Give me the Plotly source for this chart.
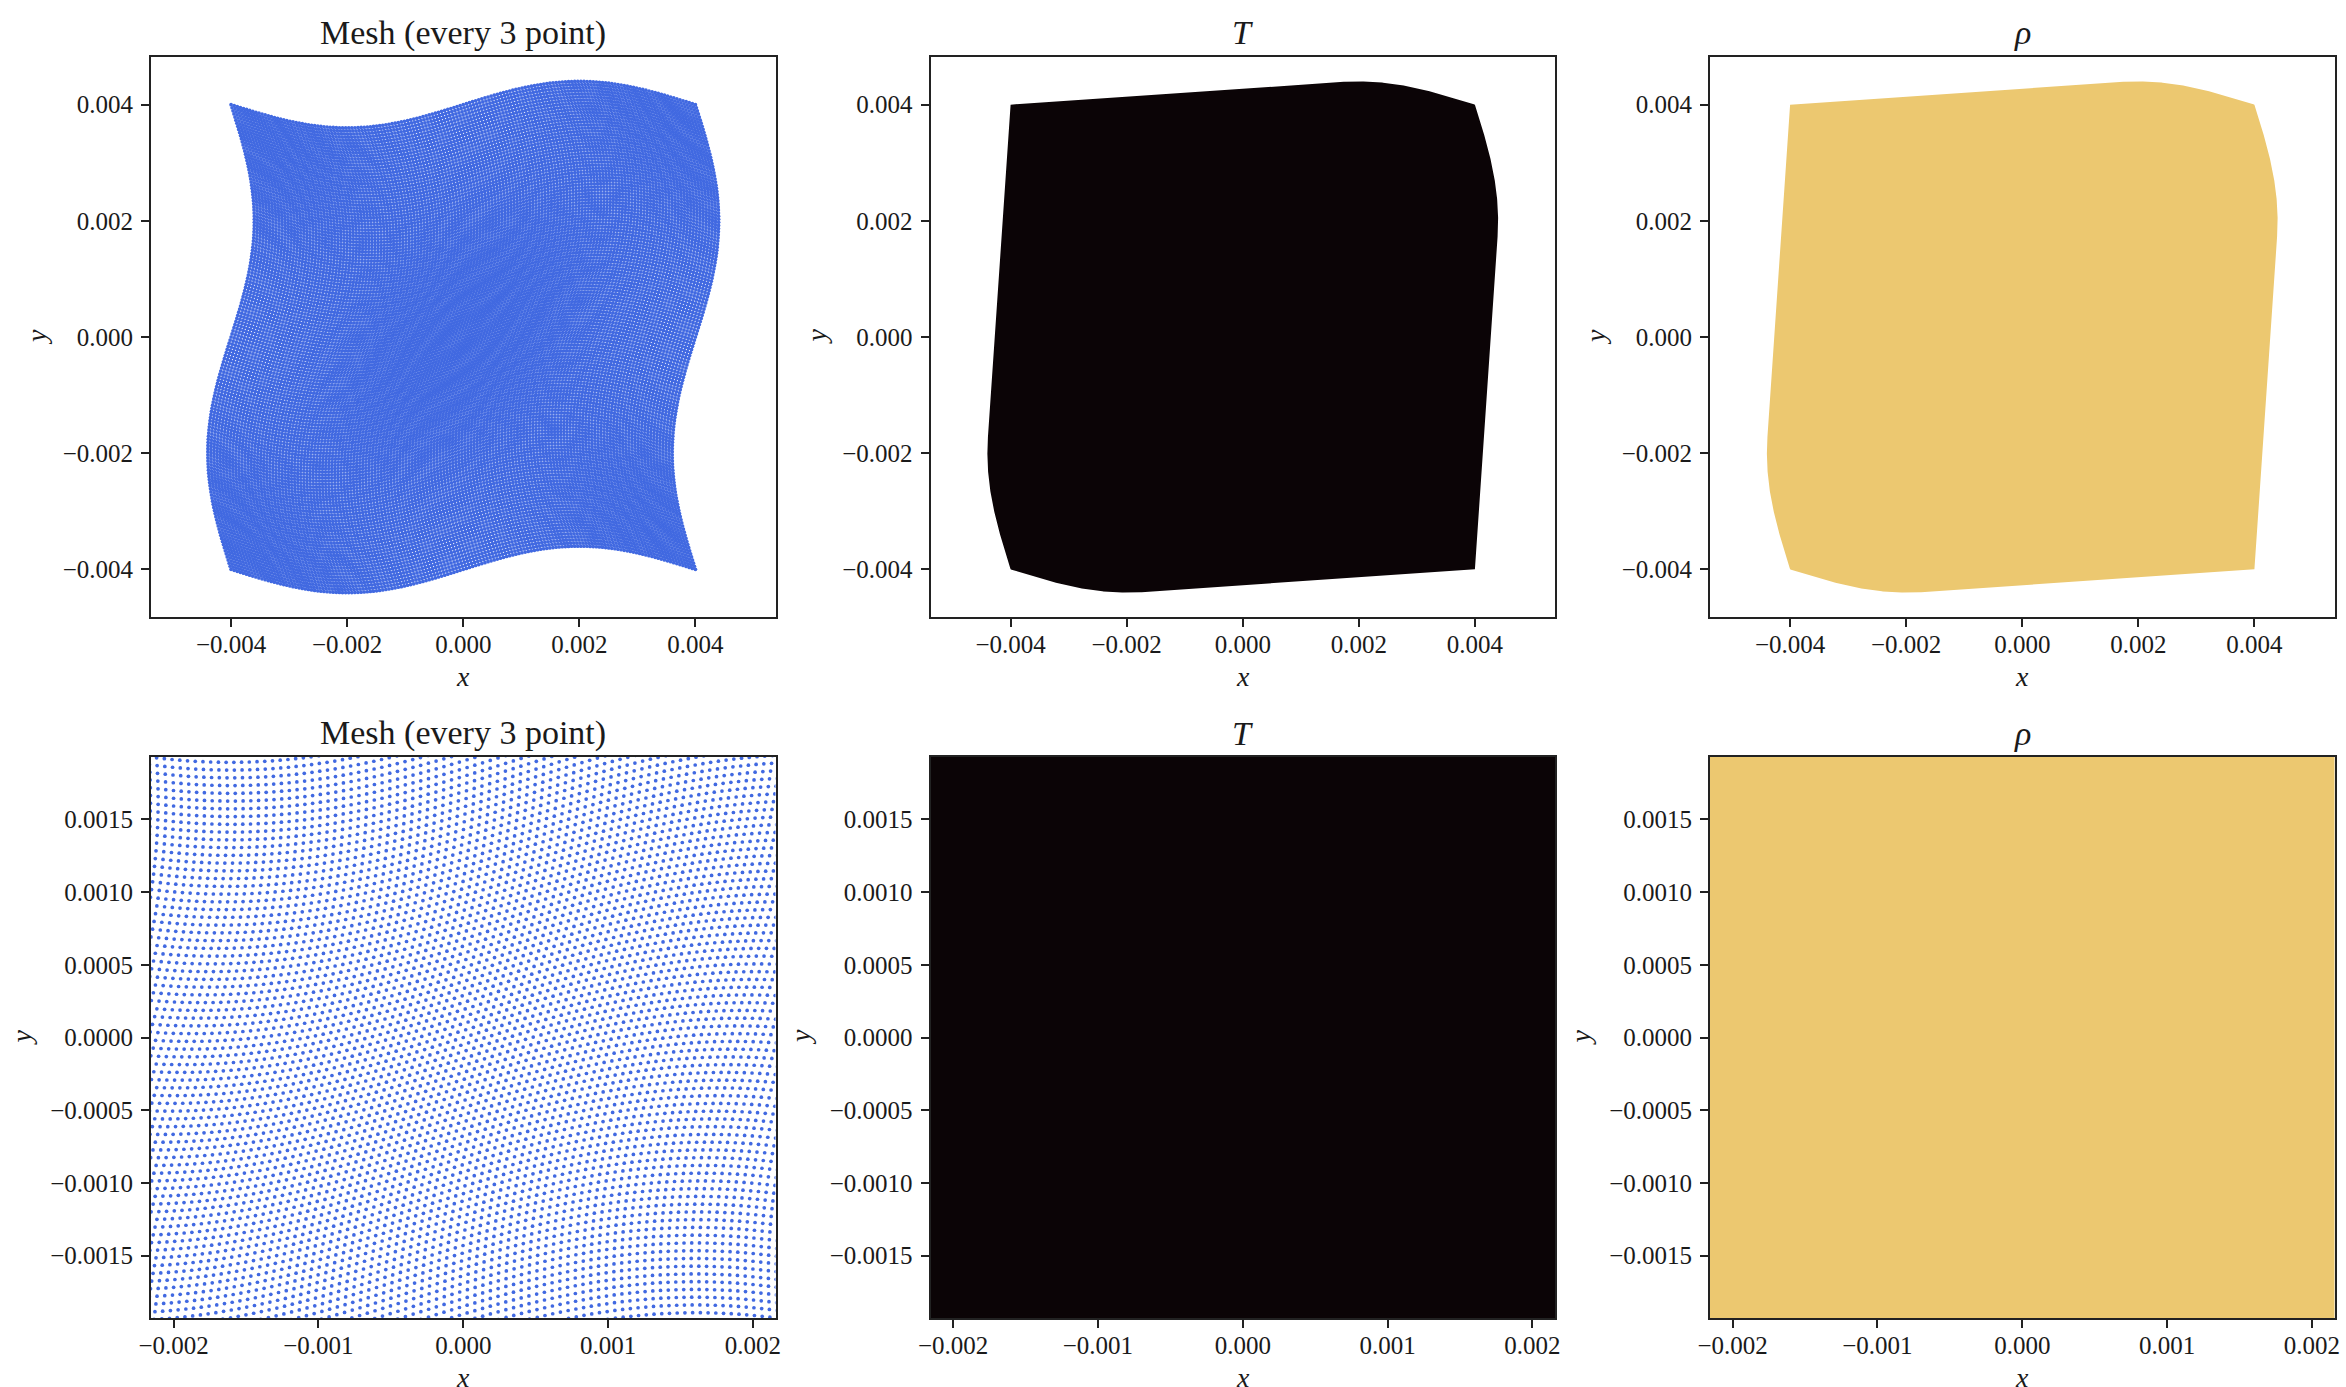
import numpy as np
import plotly.graph_objects as go

# ---- mesh definition -------------------------------------------------------
HALF_WIDTH = 0.004        # half side of the reference square
WAVE_AMP = 0.0004         # sinusoidal displacement amplitude
N_NODES = 451             # nodes per side of the fine mesh
STRIDE = 3                # plot every 3rd node

# ---- axis windows and ticks ------------------------------------------------
FULL_XRANGE = [-0.00538, 0.00538]
FULL_YRANGE = [-0.00482, 0.00482]
ZOOM_XRANGE = [-0.002156, 0.002156]
ZOOM_YRANGE = [-0.00193, 0.00193]

FULL_TICKS = [-0.004, -0.002, 0.0, 0.002, 0.004]
FULL_TICKTEXT = ["\u22120.004", "\u22120.002", "0.000", "0.002", "0.004"]
ZOOM_XTICKS = [-0.002, -0.001, 0.0, 0.001, 0.002]
ZOOM_XTICKTEXT = ["\u22120.002", "\u22120.001", "0.000", "0.001", "0.002"]
ZOOM_YTICKS = [-0.0015, -0.0010, -0.0005, 0.0, 0.0005, 0.0010, 0.0015]
ZOOM_YTICKTEXT = ["\u22120.0015", "\u22120.0010", "\u22120.0005", "0.0000",
                  "0.0005", "0.0010", "0.0015"]

PANEL_TITLES = ["Mesh (every 3 point)", "<i>T</i>", "<i>\u03c1</i>"]

MESH_COLOR = "#4169E1"
T_COLOR = "#0B0406"
RHO_COLOR = "#ECC870"

# ---- build the deformed mesh ----------------------------------------------
s = np.linspace(-HALF_WIDTH, HALF_WIDTH, N_NODES)
X, Y = np.meshgrid(s, s)
xm = X + WAVE_AMP * np.sin(np.pi * Y / HALF_WIDTH)
ym = Y + WAVE_AMP * np.sin(np.pi * X / HALF_WIDTH)

xs = xm[::STRIDE, ::STRIDE].ravel()
ys = ym[::STRIDE, ::STRIDE].ravel()


def convex_hull(px, py):
    pts = sorted(set(zip(px.tolist(), py.tolist())))

    def cross(o, a, b):
        return (a[0] - o[0]) * (b[1] - o[1]) - (a[1] - o[1]) * (b[0] - o[0])

    lower, upper = [], []
    for p in pts:
        while len(lower) >= 2 and cross(lower[-2], lower[-1], p) <= 0:
            lower.pop()
        lower.append(p)
    for p in reversed(pts):
        while len(upper) >= 2 and cross(upper[-2], upper[-1], p) <= 0:
            upper.pop()
        upper.append(p)
    hull = lower[:-1] + upper[:-1]
    hull.append(hull[0])
    return [h[0] for h in hull], [h[1] for h in hull]


# boundary nodes of the fine mesh define the triangulated (filled) region
bx = np.concatenate([xm[0, :], xm[-1, :], xm[:, 0], xm[:, -1]])
by = np.concatenate([ym[0, :], ym[-1, :], ym[:, 0], ym[:, -1]])
hull_x, hull_y = convex_hull(bx, by)

# ---- layout geometry (pixels) ---------------------------------------------
W, H = 2346, 1387
COL_LEFT = [151, 930.5, 1710]
PANEL_W = 624.5
ROW_TOP = [57, 757]
PANEL_H = [560, 561]

FONT = "Liberation Serif"
INK = "#1a1a1a"

fig = go.Figure()

axis_common = dict(
    showgrid=False, zeroline=False, showline=True, mirror=True,
    linecolor="#222222", linewidth=1.8, ticks="outside", ticklen=8,
    tickwidth=1.5, tickcolor="#222222", automargin=False,
    tickfont=dict(family=FONT, size=25, color=INK),
)

annotations = []
idx = 0
for r in range(2):
    for c in range(3):
        idx += 1
        xa = "x" if idx == 1 else f"x{idx}"
        ya = "y" if idx == 1 else f"y{idx}"
        x0 = COL_LEFT[c] / W
        x1 = (COL_LEFT[c] + PANEL_W) / W
        y1 = 1 - ROW_TOP[r] / H
        y0 = 1 - (ROW_TOP[r] + PANEL_H[r]) / H
        if r == 0:
            xr, yr = FULL_XRANGE, FULL_YRANGE
            xt, xtt, yt, ytt = FULL_TICKS, FULL_TICKTEXT, FULL_TICKS, FULL_TICKTEXT
        else:
            xr, yr = ZOOM_XRANGE, ZOOM_YRANGE
            xt, xtt, yt, ytt = ZOOM_XTICKS, ZOOM_XTICKTEXT, ZOOM_YTICKS, ZOOM_YTICKTEXT

        fig.update_layout(**{
            ("xaxis" if idx == 1 else f"xaxis{idx}"): dict(
                axis_common, domain=[x0, x1], range=xr, tickvals=xt,
                ticktext=xtt, anchor=ya, ticklabelstandoff=-4),
            ("yaxis" if idx == 1 else f"yaxis{idx}"): dict(
                axis_common, domain=[y0, y1], range=yr, tickvals=yt,
                ticktext=ytt, anchor=xa, ticklabelstandoff=3),
        })

        if c == 0:
            fig.add_trace(go.Scatter(
                x=xs, y=ys, mode="markers", xaxis=xa, yaxis=ya,
                marker=dict(size=3.7, color=MESH_COLOR, line=dict(width=0)),
                hoverinfo="skip", showlegend=False))
        else:
            fig.add_trace(go.Scatter(
                x=hull_x, y=hull_y, mode="lines", fill="toself",
                fillcolor=T_COLOR if c == 1 else RHO_COLOR,
                line=dict(width=0, color=T_COLOR if c == 1 else RHO_COLOR),
                xaxis=xa, yaxis=ya, hoverinfo="skip", showlegend=False))

        cx = (COL_LEFT[c] + PANEL_W / 2) / W
        annotations.append(dict(
            text=PANEL_TITLES[c], x=cx, y=1 - (ROW_TOP[r] - 24) / H,
            xref="paper", yref="paper", xanchor="center", yanchor="middle",
            showarrow=False, font=dict(family=FONT, size=34, color=INK)))
        annotations.append(dict(
            text="<i>x</i>", x=cx, y=1 - (ROW_TOP[r] + PANEL_H[r] + 59) / H,
            xref="paper", yref="paper", xanchor="center", yanchor="middle",
            showarrow=False, font=dict(family=FONT, size=28, color=INK)))
        ylab_off = 114 if r == 0 else 130
        annotations.append(dict(
            text="<i>y</i>", x=(COL_LEFT[c] - ylab_off) / W,
            y=1 - (ROW_TOP[r] + PANEL_H[r] / 2) / H,
            xref="paper", yref="paper", xanchor="center", yanchor="middle",
            textangle=-90, showarrow=False,
            font=dict(family=FONT, size=28, color=INK)))

fig.update_layout(
    width=W, height=H, margin=dict(l=0, r=0, t=0, b=0),
    paper_bgcolor="white", plot_bgcolor="white",
    annotations=annotations, showlegend=False,
)

fig.write_html("out.html")
